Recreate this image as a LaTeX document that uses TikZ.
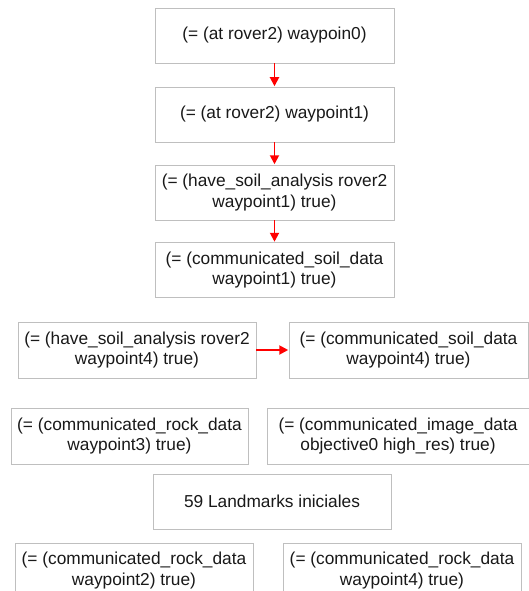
\documentclass[tikz,border=0pt]{standalone}
\usepackage{fontspec}
\setmainfont{Liberation Sans}
\usetikzlibrary{arrows.meta}
\begin{document}
\begin{tikzpicture}[x=1pt,y=-1pt,
  box/.style={draw=black!25, line width=0.9pt, fill=white, align=center,
    minimum width=239pt, minimum height=55pt, inner sep=0pt,
    font=\fontsize{17.3}{20.5}\selectfont, text=black!90},
  arr/.style={draw=red, line width=1.9pt, -{Triangle[length=9pt,width=9pt]}, shorten >=0.3pt}]
\useasboundingbox (0,0) rectangle (528,591);
\node[box] (b1) at (274.5,35.5) {(= (at rover2) waypoin0)};
\node[box] (b2) at (274.5,114.5) {(= (at rover2) waypoint1)};
\node[box] (b3) at (274.5,192.5) {(= (have\_soil\_analysis rover2\\waypoint1) true)};
\node[box] (b4) at (274.5,270) {(= (communicated\_soil\_data\\waypoint1) true)};
\node[box, minimum width=238pt, minimum height=56pt] (b5l) at (137,350) {(= (have\_soil\_analysis rover2\\waypoint4) true)};
\node[box, minimum height=56pt] (b5r) at (408.5,350) {(= (communicated\_soil\_data\\waypoint4) true)};
\node[box, minimum width=237pt, minimum height=56pt] (b6l) at (129.5,436) {(= (communicated\_rock\_data\\waypoint3) true)};
\node[box, minimum width=262pt, minimum height=56pt] (b6r) at (398,436) {(= (communicated\_image\_data\\objective0 high\_res) true)};
\node[box, minimum width=238pt] (b7) at (272,501.5) {59 Landmarks iniciales};
\node[box, minimum width=238pt] (b8l) at (134,570.5) {(= (communicated\_rock\_data\\waypoint2) true)};
\node[box, minimum width=238pt] (b8r) at (402,570.5) {(= (communicated\_rock\_data\\waypoint4) true)};
\draw[arr] (b1) -- (b2);
\draw[arr] (b2) -- (b3);
\draw[arr] (b3) -- (b4);
\draw[arr] (b5l) -- (b5r);
\end{tikzpicture}
\end{document}
